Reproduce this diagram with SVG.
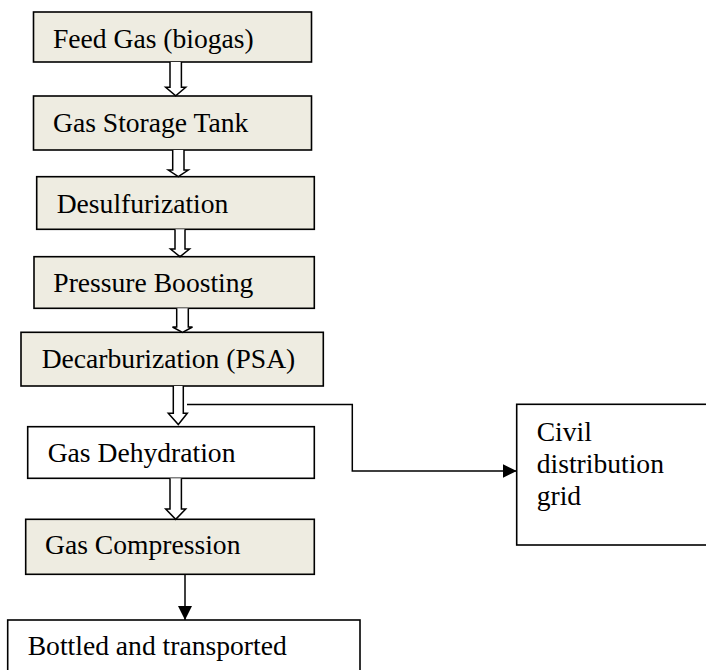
<svg xmlns="http://www.w3.org/2000/svg" width="706" height="670" viewBox="0 0 706 670">
<defs>
<style>
.box{stroke:#000;stroke-width:1.6}
.beige{fill:#EEECE1}
.white{fill:#fff}
.t{font-family:'Liberation Serif','DejaVu Serif','Times New Roman',serif;font-size:27.6px;fill:#000}
.hollow{fill:#fff;stroke:#000;stroke-width:1.5;stroke-linejoin:miter}
.line{fill:none;stroke:#000;stroke-width:1.5}
</style>
<marker id="tri" markerWidth="14" markerHeight="14" refX="14" refY="7" orient="auto" markerUnits="userSpaceOnUse">
<path d="M0,0 L14,7 L0,14 Z" fill="#000"/>
</marker>
</defs>
<rect width="706" height="670" fill="#fff"/>

<g id="feed"><rect class="box beige" x="33.5" y="12" width="278" height="50"/><text class="t" x="53" y="47.7">Feed Gas (biogas)</text></g>
<g id="storage"><rect class="box beige" x="33.5" y="96" width="278" height="54"/><text class="t" x="53" y="131.7">Gas Storage Tank</text></g>
<g id="desulf"><rect class="box beige" x="36.7" y="176.7" width="277.6" height="52.6"/><text class="t" x="56.7" y="212.7">Desulfurization</text></g>
<g id="pressure"><rect class="box beige" x="34" y="256.7" width="280.3" height="51.6"/><text class="t" x="53.3" y="291.7">Pressure Boosting</text></g>
<g id="decarb"><rect class="box beige" x="21" y="332.3" width="302.3" height="53.7"/><text class="t" x="41.7" y="368.3">Decarburization (PSA)</text></g>
<g id="dehyd"><rect class="box white" x="27.7" y="426.7" width="286.6" height="51.6"/><text class="t" x="47.7" y="461.7">Gas Dehydration</text></g>
<g id="compress"><rect class="box beige" x="25.7" y="519.3" width="288.6" height="55"/><text class="t" x="45" y="554">Gas Compression</text></g>
<g id="bottled"><rect class="box white" x="7.7" y="620" width="352.3" height="60"/><text class="t" x="27.7" y="655">Bottled and transported</text></g>
<g id="civil"><rect class="box white" x="516.7" y="404.3" width="200" height="140.7"/><text class="t" x="536.7" y="441">Civil</text><text class="t" x="536.7" y="472.7">distribution</text><text class="t" x="536.7" y="505">grid</text></g>

<g id="connectors">
<path class="hollow" d="M170,62 V87.3 H165.7 L175.7,95.7 L185.7,87.3 H181.4 V62"/>
<path class="hollow" d="M172.7,150 V170 H168.3 L178.3,176.7 L188.3,170 H184 V150"/>
<path class="hollow" d="M175,229.3 V249 H170.5 L180,256.7 L189.5,249 H185 V229.3"/>
<path class="hollow" d="M176.7,308.3 V327 H172.5 L182.5,332.3 L192.5,327 H188.3 V308.3"/>
<path class="hollow" d="M173.3,386 V413.3 H168.3 L178.3,424.5 L187.3,413.3 H183.3 V386"/>
<path class="line" d="M187,404.5 H352.3 V471 H516.7" marker-end="url(#tri)"/>
<path class="hollow" d="M170,478.3 V509 H165.7 L175.7,519.3 L185.7,509 H181.4 V478.3"/>
<path class="line" d="M185,574.3 V620" marker-end="url(#tri)"/>
</g>
</svg>
